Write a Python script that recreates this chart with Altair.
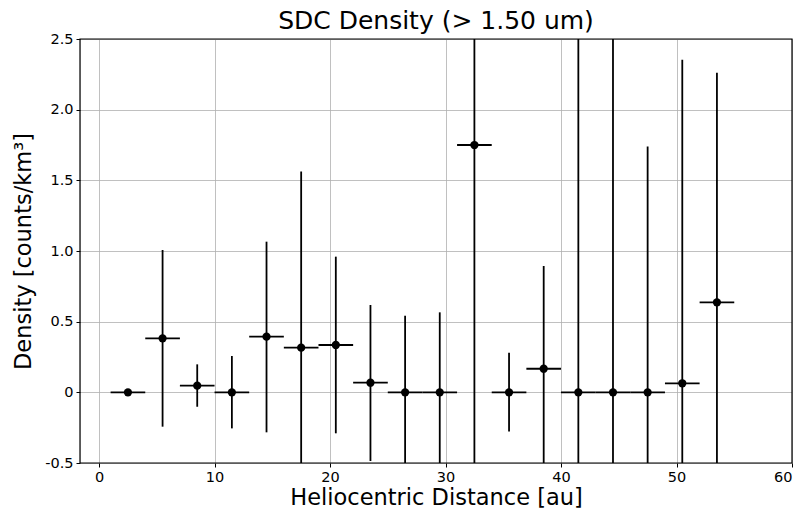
import altair as alt
import pandas as pd

# Data
dist = [2.5, 5.5, 8.5, 11.5, 14.5, 17.5, 20.5, 23.5, 26.5, 29.5,
        32.5, 35.5, 38.5, 41.5, 44.5, 47.5, 50.5, 53.5]
density = [0.0, 0.382, 0.047, 0.0, 0.394, 0.316, 0.335, 0.068, 0.0, 0.0,
           1.75, 0.0, 0.167, 0.0, 0.0, 0.0, 0.064, 0.637]
err_up = [0.0, 0.625, 0.151, 0.257, 0.672, 1.246, 0.625, 0.55, 0.542, 0.566,
          2.9, 0.28, 0.727, 3.0, 3.0, 1.739, 2.289, 1.625]
err_lo = [0.0, 0.625, 0.149, 0.255, 0.677, 1.246, 0.625, 0.554, 0.542, 0.566,
          2.9, 0.278, 0.727, 3.0, 3.0, 1.739, 2.289, 1.625]
bin_half = 1.5

df = pd.DataFrame({"x": dist, "y": density, "eu": err_up, "el": err_lo})
df["xlo"] = df["x"] - bin_half
df["xhi"] = df["x"] + bin_half
df["ylo"] = df["y"] - df["el"]
df["yhi"] = df["y"] + df["eu"]

FONT = "DejaVu Sans"
W, H = 712, 424

xscale = alt.Scale(domain=[-1.65, 60], nice=False, zero=False)
yscale = alt.Scale(domain=[-0.5, 2.5], nice=False, zero=False)

xaxis = alt.Axis(values=[0, 10, 20, 30, 40, 50, 60], title="Heliocentric Distance [au]",
                 grid=True, gridColor="#b0b0b0", gridWidth=0.8,
                 domain=False, tickColor="black", tickSize=4, tickWidth=1,
                 labelFont=FONT, labelFontSize=14.5, labelColor="black", labelPadding=3,
                 titleFont=FONT, titleFontSize=22.5, titleFontWeight="normal",
                 titleColor="black", titlePadding=3)
yaxis = alt.Axis(values=[-0.5, 0, 0.5, 1.0, 1.5, 2.0, 2.5], title="Density [counts/km³]",
                 labelExpr="datum.value == 0 ? '0' : (datum.value < 0 ? '-' + format(-datum.value, '.1f') : format(datum.value, '.1f'))",
                 grid=True, gridColor="#b0b0b0", gridWidth=0.8,
                 domain=False, tickColor="black", tickSize=4, tickWidth=1,
                 labelFont=FONT, labelFontSize=14.5, labelColor="black", labelPadding=3,
                 titleFont=FONT, titleFontSize=22.5, titleFontWeight="normal",
                 titleColor="black", titlePadding=9)

base = alt.Chart(df)

vbars = base.mark_rule(color="black", strokeWidth=1.8, clip=True).encode(
    x=alt.X("x:Q", scale=xscale, axis=xaxis),
    y=alt.Y("ylo:Q", scale=yscale, axis=yaxis),
    y2="yhi:Q",
)
hbars = base.mark_rule(color="black", strokeWidth=1.8, clip=True).encode(
    x=alt.X("xlo:Q", scale=xscale),
    x2="xhi:Q",
    y=alt.Y("y:Q", scale=yscale),
)
pts = base.mark_circle(color="black", size=68, opacity=1, clip=True).encode(
    x=alt.X("x:Q", scale=xscale),
    y=alt.Y("y:Q", scale=yscale),
)
frame = alt.Chart(pd.DataFrame({"a": [0]})).mark_rect(
    fill=None, stroke="black", strokeWidth=1.2
).encode(x=alt.value(0), x2=alt.value(W), y=alt.value(0), y2=alt.value(H))

chart = alt.layer(vbars, hbars, pts, frame).properties(
    width=W, height=H,
    title=alt.TitleParams("SDC Density (> 1.50 um)", font=FONT, fontSize=25,
                          fontWeight="normal", color="black", offset=-3),
    autosize=alt.AutoSizeParams(type="none"),
    padding={"left": 80, "top": 39, "right": 16, "bottom": 57},
).configure_view(stroke=None).configure(background="white")

chart.save("out.html", embed_options={"renderer": "svg", "actions": False})
